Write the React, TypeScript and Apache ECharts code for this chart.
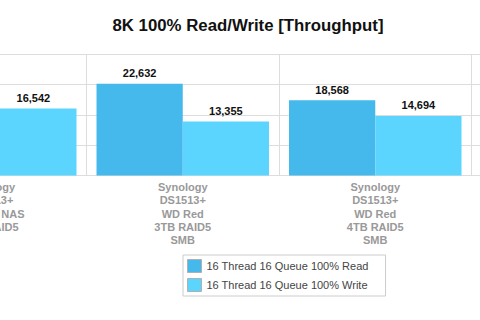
import React, { useEffect, useRef } from "react";
import * as echarts from "echarts";

const categories = [
  "Synology\nDS1513+\nWD Red NAS\n3TB RAID5",
  "Synology\nDS1513+\nWD Red\n3TB RAID5\nSMB",
  "Synology\nDS1513+\nWD Red\n4TB RAID5\nSMB",
  "",
];
const seriesNames = ["16 Thread 16 Queue 100% Read", "16 Thread 16 Queue 100% Write"];
const readValues: (number | null)[] = [null, 22632, 18568, null];
const writeValues: (number | null)[] = [16542, 13355, 14694, null];
const colors = ["#45b8ec", "#5bd5fe"];

export default function App() {
  const ref = useRef<HTMLDivElement>(null);
  useEffect(() => {
    if (!ref.current) return;
    const chart = echarts.init(ref.current, null, { renderer: "svg" });
    const font = "'Liberation Sans', Arial, Helvetica, sans-serif";
    const label = {
      show: true,
      position: "top",
      distance: 5,
      fontFamily: font,
      fontWeight: "bold",
      fontSize: 11,
      color: "#111",
      formatter: (p: any) => (p.value == null ? "" : Number(p.value).toLocaleString("en-US")),
    };
    chart.setOption({
      animation: false,
      backgroundColor: "#fff",
      textStyle: { fontFamily: font },
      title: {
        text: "8K 100% Read/Write [Throughput]",
        left: 349,
        textAlign: "center",
        top: 12,
        textStyle: { fontFamily: font, fontWeight: "bold", fontSize: 16.8, color: "#111" },
      },
      legend: {
        orient: "vertical",
        left: 289,
        top: 255,
        padding: [4, 17, 4, 4],
        itemWidth: 14,
        itemHeight: 13,
        itemGap: 5,
        borderColor: "#ccc",
        borderWidth: 1,
        icon: "rect",
        itemStyle: { borderColor: "#b0b0b0", borderWidth: 1 },
        textStyle: { fontFamily: font, fontSize: 11, color: "#444" },
        data: seriesNames,
      },
      grid: { left: 0, right: 0, top: 54, bottom: 144.5 },
      xAxis: {
        type: "category",
        data: categories,
        axisLine: { lineStyle: { color: "#ddd" } },
        axisTick: { show: false },
        splitLine: { show: true, lineStyle: { color: "#ddd" } },
        axisLabel: {
          interval: 0,
          margin: 5,
          color: "#999",
          fontFamily: font,
          fontWeight: "bold",
          fontSize: 11,
          lineHeight: 13.3,
        },
      },
      yAxis: {
        type: "value",
        min: 0,
        max: 30000,
        interval: 7500,
        axisLabel: { show: false },
        axisLine: { show: false },
        axisTick: { show: false },
        splitLine: { lineStyle: { color: "#ddd" } },
      },
      series: [
        {
          name: seriesNames[0],
          type: "bar",
          data: readValues,
          barGap: "0%",
          barCategoryGap: "10.4%",
          itemStyle: { color: colors[0] },
          label,
        },
        {
          name: seriesNames[1],
          type: "bar",
          data: writeValues,
          barGap: "0%",
          barCategoryGap: "10.4%",
          itemStyle: { color: colors[1] },
          label,
        },
      ],
    });
    return () => chart.dispose();
  }, []);
  return (
    <div
      style={{
        position: "fixed",
        left: 0,
        top: 0,
        width: 480,
        height: 320,
        overflow: "hidden",
        background: "#fff",
      }}
    >
      <div ref={ref} style={{ position: "absolute", left: -106, top: 0, width: 770, height: 320 }} />
    </div>
  );
}
